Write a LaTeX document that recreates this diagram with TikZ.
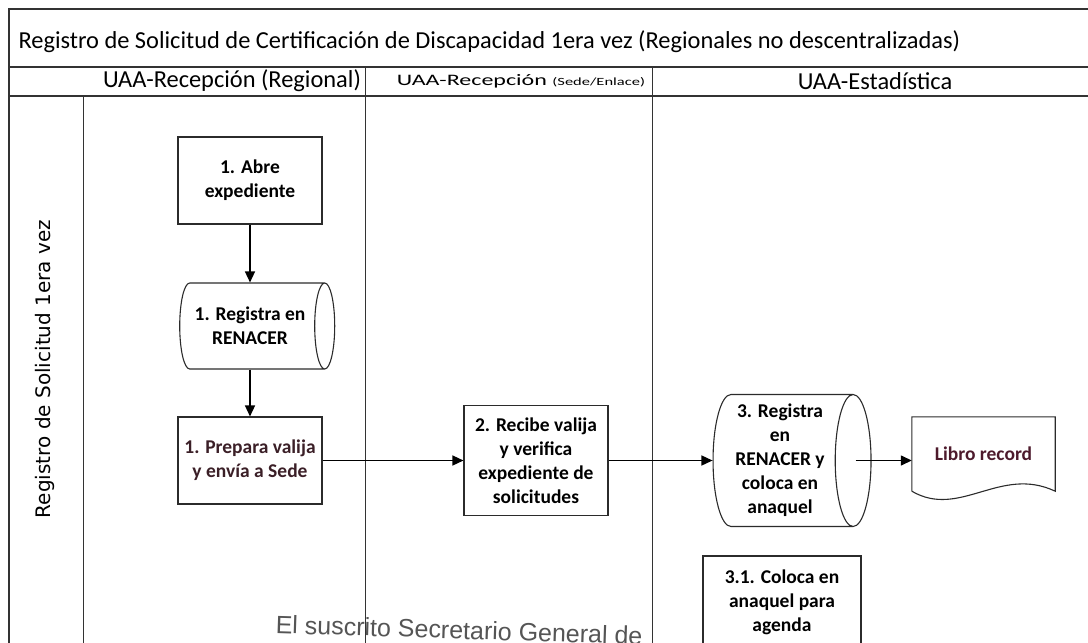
\documentclass[tikz,border=0pt]{standalone}
\usepackage{fontspec}
\setmainfont{Carlito}
\newfontfamily\lanefont{DejaVu Sans}
\newfontfamily\stampfont{Liberation Sans}
\newfontfamily\widefont[FakeStretch=1.5]{Carlito}
\usepackage{tikz}
\usetikzlibrary{calc}
\usetikzlibrary{shapes.geometric, arrows.meta}
\definecolor{laneline}{HTML}{333333}
\definecolor{boxline}{HTML}{2B2B2B}
\definecolor{valija}{HTML}{3B1F27}
\definecolor{libro}{HTML}{4D1A2C}
\definecolor{stamp}{HTML}{555555}
\tikzstyle{lane} = [draw=laneline, line width=1.2pt]
\tikzstyle{process} = [rectangle, minimum width=144pt, minimum height=87pt, text centered, align=center, draw=boxline, line width=1.1pt, font=\fontsize{19.5}{24}\selectfont\bfseries]
\tikzstyle{store} = [cylinder, aspect=0.45, text centered, align=center, draw=boxline, line width=1.1pt, font=\fontsize{19.5}{24}\selectfont\bfseries]
\tikzstyle{document} = [rectangle, minimum width=143pt, minimum height=74pt, text centered, font=\fontsize{19.5}{24}\selectfont\bfseries]
\tikzstyle{header} = [font=\fontsize{24.4}{28}\selectfont]
\tikzstyle{arrow} = [line width=1.4pt, -{Triangle[length=11pt,width=10pt]}]

\begin{document}
\begin{tikzpicture}[x=1pt, y=-1pt, node distance=145.5pt]
\useasboundingbox (0,0) rectangle (1088,643);

\draw[lane] (9,650) -- (9,9) -- (1095,9);
\draw[lane] (9,67) -- (1095,67);
\draw[lane] (9,96) -- (1095,96);
\draw[lane, line width=1pt] (83,96) -- (83,650);
\draw[lane, line width=1pt] (365,67) -- (365,650);
\draw[lane, line width=1pt] (652,67) -- (652,650);

\node(title)[header, anchor=west] at (15,42) {Registro de Solicitud de Certificación de Discapacidad 1era vez (Regionales no descentralizadas)};
\node(regional)[header] at (232,81) {UAA-Recepción (Regional)};
\node(sede)[header, inner sep=0pt] at (521,81) {{\widefont\fontsize{16}{18}\selectfont UAA-Recepción} {\widefont\fontsize{11}{18}\selectfont (Sede/Enlace)}};
\node(estadistica)[header] at (875,81) {UAA-Estadística};
\node(lanelabel)[rotate=90, font=\lanefont\fontsize{20}{22}\selectfont] at (45,369) {Registro de Solicitud 1era vez};

\node(abre)[process] at (250,180.5) {1. Abre\\expediente};
\node(reg1)[store, minimum width=86pt, minimum height=155pt, below of=abre] {1. Registra en\\RENACER};
\node(prepara)[process, text=valija, below of=reg1, node distance=134.5pt] {1. Prepara valija\\y envía a Sede};
\node(recibe)[process, minimum height=110pt, right of=prepara, node distance=286pt] {2. Recibe valija\\y verifica\\expediente de\\solicitudes};
\node(reg3)[store, aspect=0.3, minimum width=132pt, minimum height=158pt, right of=recibe, node distance=255pt, xshift=-11pt] {3. Registra\\en\\RENACER y\\coloca en\\anaquel};
\node(libro)[document, text=libro, right of=reg3, node distance=203.5pt, yshift=6.5pt] {Libro record};
\node(coloca)[process, minimum width=158pt, minimum height=92pt, below of=reg3, node distance=141.5pt, xshift=2pt] {3.1. Coloca en\\anaquel para\\agenda};

\draw[draw=boxline, line width=1.1pt] (libro.south west) -- (libro.north west) -- (libro.north east) -- (libro.south east) .. controls ($(libro.south east)+(-55,-26)$) and ($(libro.south west)+(48,28)$) .. (libro.south west);

\draw[arrow] (abre) -- (abre.south |- reg1.north);
\draw[arrow] (abre.south |- reg1.south) -- (prepara);
\draw[arrow] (prepara) -- (recibe);
\draw[arrow] (recibe) -- (reg3);
\draw[arrow] ([xshift=-16pt]reg3.east) -- (reg3 -| libro.west);

\node(stamp)[anchor=base west, rotate=-1.8, text=stamp, font=\stampfont\fontsize{25}{28}\selectfont] at (272,633) {El suscrito Secretario General de};

\end{tikzpicture}
\end{document}
